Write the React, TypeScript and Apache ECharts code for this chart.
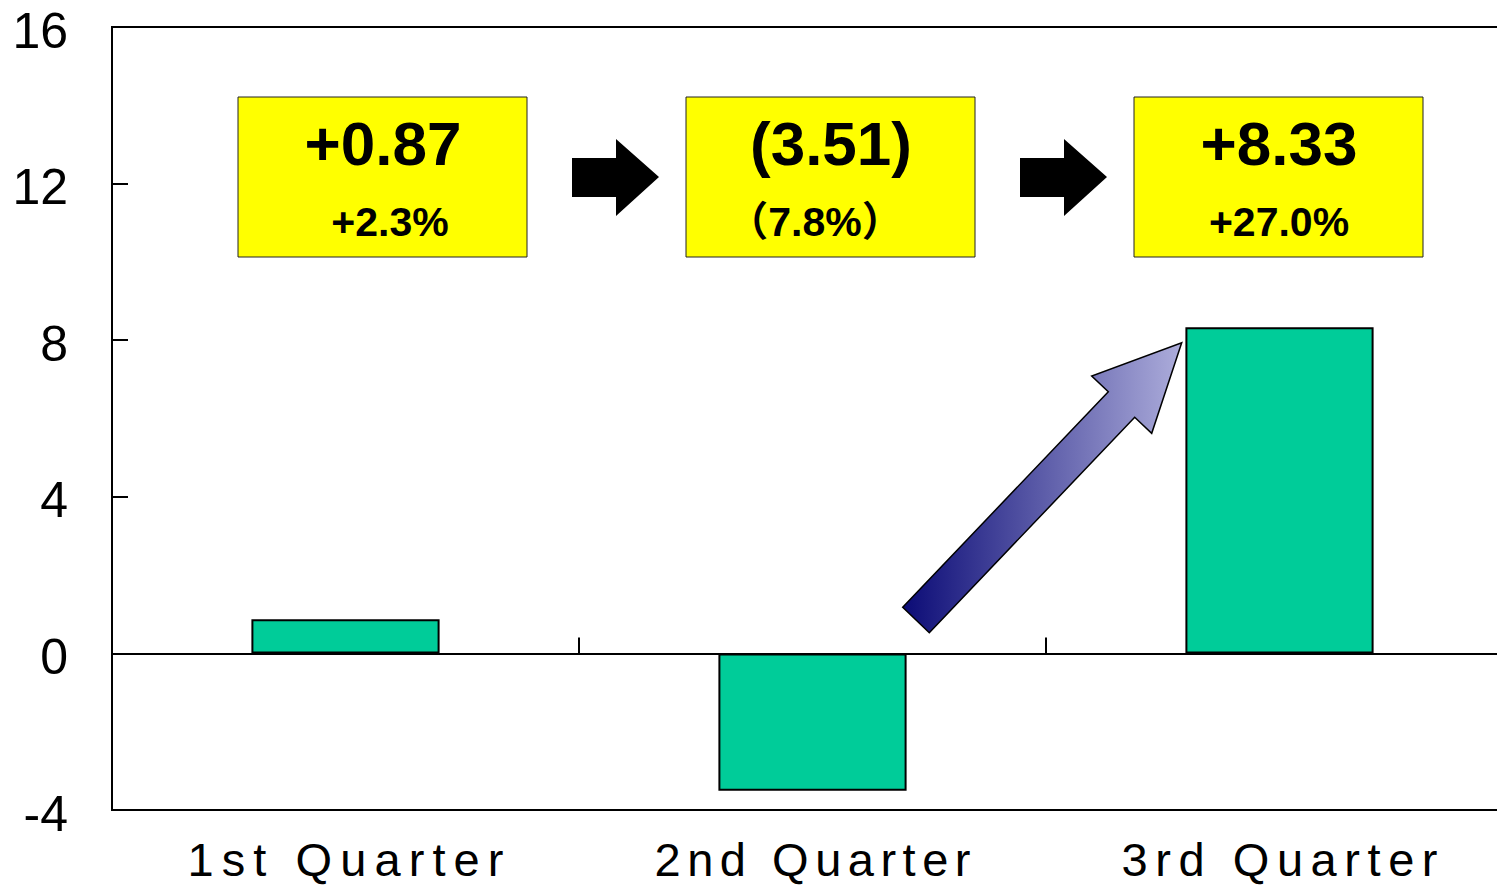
import React, { useEffect, useRef } from 'react';
import * as echarts from 'echarts';

const categories = ['1st Quarter', '2nd Quarter', '3rd Quarter'];
const values = [0.87, -3.51, 8.33];
const changeLabels = ['+0.87', '(3.51)', '+8.33'];
const pctLabels = ['+2.3%', '（7.8%）', '+27.0%'];
const yMin = -4;
const yMax = 16;
const yInterval = 4;

const LABEL_FONT_FAMILY = "'Liberation Sans', Arial, sans-serif";
const LABEL_FONT_SIZE = 47;
const LABEL_TARGET_WIDTH = 316;

const boxXs = [238, 686, 1134];
const boxCenters = [383, 831, 1279];
const pctCenters = [390, 815, 1279];
const pctFonts = [
  "bold 41px 'Liberation Sans', Arial, sans-serif",
  "bold 41px 'Liberation Sans', 'Noto Sans CJK JP', sans-serif",
  "bold 41px 'Liberation Sans', Arial, sans-serif",
];

export default function App() {
  const ref = useRef<HTMLDivElement>(null);
  useEffect(() => {
    if (!ref.current) return;
    const chart = echarts.init(ref.current, null, { renderer: 'svg' });
    const graphics: any[] = [];
    boxXs.forEach((bx, i) => {
      graphics.push({
        type: 'rect',
        shape: { x: bx, y: 97, width: 289, height: 160 },
        style: { fill: '#FFFF00', stroke: '#222', lineWidth: 1 },
        z: 10,
      });
      graphics.push({
        type: 'text',
        x: boxCenters[i],
        y: 143,
        style: {
          text: changeLabels[i],
          font: "bold 62px 'Liberation Sans', Arial, sans-serif",
          fill: '#000',
          textAlign: 'center',
          align: 'center',
          textVerticalAlign: 'middle',
          verticalAlign: 'middle',
        },
        z: 11,
      });
      graphics.push({
        type: 'text',
        x: pctCenters[i],
        y: 222,
        style: {
          text: pctLabels[i],
          font: pctFonts[i],
          fill: '#000',
          textAlign: 'center',
          align: 'center',
          textVerticalAlign: 'middle',
          verticalAlign: 'middle',
        },
        z: 11,
      });
    });
    // black block arrows between boxes
    [572, 1020].forEach((ax) => {
      graphics.push({
        type: 'polygon',
        shape: {
          points: [
            [ax, 158],
            [ax + 44, 158],
            [ax + 44, 139],
            [ax + 87, 177],
            [ax + 44, 216],
            [ax + 44, 197],
            [ax, 197],
          ],
        },
        style: { fill: '#000' },
        z: 10,
      });
    });
    // gradient rising arrow
    graphics.push({
      type: 'polygon',
      shape: {
        points: [
          [902.7, 607.3],
          [1108.3, 391.7],
          [1091.7, 376],
          [1181.7, 342.7],
          [1151.7, 433.3],
          [1134.7, 417.3],
          [929.3, 632.7],
        ],
      },
      style: {
        fill: new echarts.graphic.LinearGradient(0, 0, 1, 0, [
          { offset: 0, color: '#0B0B76' },
          { offset: 1, color: '#ADADDB' },
        ]),
        stroke: '#000',
        lineWidth: 1.5,
      },
      z: 10,
    });

    chart.setOption({
      animation: false,
      backgroundColor: '#fff',
      grid: {
        left: 112,
        top: 27,
        right: 0,
        bottom: 77,
        show: true,
        borderColor: '#000',
        borderWidth: 2,
        backgroundColor: 'transparent',
      },
      xAxis: [
        {
          type: 'category',
          data: categories,
          position: 'bottom',
          axisLine: { show: true, onZero: true, lineStyle: { color: '#000', width: 2 } },
          axisTick: { show: true, inside: true, length: 16, lineStyle: { color: '#000', width: 2 } },
          axisLabel: { show: false },
          splitLine: { show: false },
        },
        {
          type: 'category',
          data: categories,
          position: 'bottom',
          axisLine: { show: false, onZero: false },
          axisTick: { show: false },
          axisLabel: {
            show: true,
            margin: 29,
            lineHeight: 40,
            fontSize: LABEL_FONT_SIZE,
            fontFamily: LABEL_FONT_FAMILY,
            color: '#000',
          },
          splitLine: { show: false },
        },
      ],
      yAxis: {
        type: 'value',
        min: yMin,
        max: yMax,
        interval: yInterval,
        axisLine: { show: true, lineStyle: { color: '#000', width: 2 } },
        axisTick: { show: true, inside: true, length: 16, lineStyle: { color: '#000', width: 2 } },
        axisLabel: {
          margin: 44,
          fontSize: 50,
          verticalAlign: 'top',
          lineHeight: 7,
          fontFamily: "'Liberation Sans', Arial, sans-serif",
          color: '#000',
        },
        splitLine: { show: false },
      },
      series: [
        {
          type: 'bar',
          xAxisIndex: 0,
          data: values,
          barWidth: '40.3%',
          itemStyle: { color: '#00CC99', borderColor: '#000', borderWidth: 2 },
        },
      ],
      graphic: graphics,
    });

    // widen category labels with letter spacing, as in the reference
    try {
      const ctx = document.createElement('canvas').getContext('2d');
      if (ctx) {
        ctx.font = `${LABEL_FONT_SIZE}px ${LABEL_FONT_FAMILY}`;
        ref.current.querySelectorAll('text').forEach((t) => {
          const txt = t.textContent || '';
          if (categories.includes(txt)) {
            const w = ctx.measureText(txt).width;
            const s = Math.max(0, (LABEL_TARGET_WIDTH - w) / (txt.length - 1));
            (t as any).style.letterSpacing = `${s}px`;
            const x = parseFloat(t.getAttribute('x') || '0');
            t.setAttribute('x', String(x + s / 2));
          }
        });
      }
    } catch (e) {
      // ignore
    }

    return () => chart.dispose();
  }, []);
  return (
    <div
      style={{ position: 'fixed', left: 0, top: 0, width: 1497, height: 887, overflow: 'hidden', background: '#fff' }}
    >
      <div ref={ref} style={{ width: 1513, height: 887 }} />
    </div>
  );
}
